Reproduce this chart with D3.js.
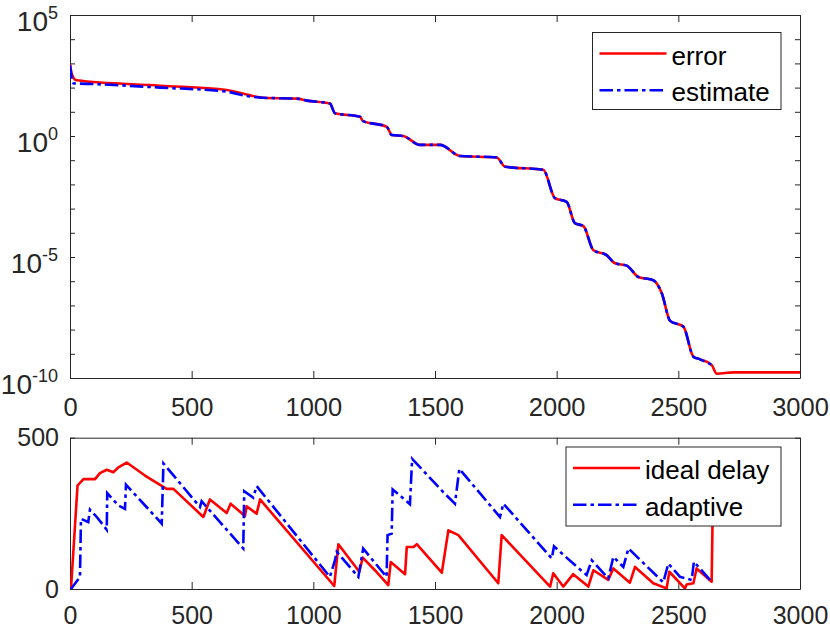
<!doctype html>
<html lang="en">
<head>
<meta charset="utf-8">
<title>error / delay</title>
<script src="https://cdn.jsdelivr.net/npm/d3@7/dist/d3.min.js"></script>
<style>
  body { margin: 0; background: #fff; }
  svg { font-family: "Liberation Sans", Arial, Helvetica, sans-serif; }
</style>
</head>
<body>
<svg id="fig" width="830" height="629"></svg>
<script>
// top panel: error and its estimate (log scale)
var errorIter = [0, 8, 27, 370, 644, 726, 794, 932, 973, 1068, 1089, 1192, 1203, 1302, 1322, 1370, 1438, 1521, 1603, 1754, 1788, 1945, 1993, 2041, 2075, 2110, 2151, 2205, 2240, 2288, 2336, 2397, 2432, 2466, 2521, 2562, 2589, 2637, 2658, 2726, 3000];
var errorVal = [9.5e2, 3.5e2, 2.0e2, 1.2e2, 79, 52, 38, 35, 29, 22, 8.7, 6.3, 4.2, 2.4, 1.1, 1.0, 0.43, 0.43, 0.15, 0.13, 0.054, 0.040, 2.7e-3, 1.9e-3, 2.5e-4, 1.9e-4, 1.9e-5, 1.2e-5, 5.5e-6, 4.4e-6, 1.5e-6, 1.1e-6, 3.2e-7, 2.3e-8, 1.3e-8, 7.6e-10, 5.9e-10, 3.5e-10, 1.5e-10, 1.7e-10, 1.7e-10];

var estimateIter = [0, 6, 15, 100, 370, 644, 726, 794, 932, 973, 1068, 1089, 1192, 1203, 1302, 1322, 1370, 1438, 1521, 1603, 1754, 1788, 1945, 1993, 2041, 2075, 2110, 2151, 2205, 2240, 2288, 2336, 2397, 2432, 2466, 2521, 2562, 2589, 2635];
var estimateVal = [8.5e2, 3.0e2, 1.5e2, 1.4e2, 1.0e2, 68, 45, 38, 35, 29, 22, 8.7, 6.3, 4.2, 2.4, 1.1, 1.0, 0.43, 0.43, 0.15, 0.13, 0.054, 0.040, 2.7e-3, 1.9e-3, 2.5e-4, 1.9e-4, 1.9e-5, 1.2e-5, 5.5e-6, 4.4e-6, 1.5e-6, 1.1e-6, 3.2e-7, 2.3e-8, 1.3e-8, 7.6e-10, 5.9e-10, 3.6e-10];

// bottom panel: delays
var delayIter = [0, 4, 31, 55, 103, 123, 151, 178, 199, 233, 308, 397, 425, 548, 575, 644, 660, 719, 726, 767, 781, 1086, 1103, 1189, 1203, 1253, 1308, 1318, 1377, 1384, 1412, 1425, 1528, 1555, 1596, 1760, 1774, 1973, 1986, 2027, 2068, 2130, 2151, 2212, 2233, 2301, 2322, 2397, 2452, 2463, 2527, 2534, 2562, 2575, 2637, 2641];
var delayVal = [0, 0, 342, 363, 363, 383, 394, 386, 402, 418, 375, 331, 331, 238, 296, 251, 282, 241, 273, 249, 296, 10, 148, 57, 104, 62, 13, 89, 49, 139, 139, 148, 54, 194, 178, 19, 178, 8, 52, 8, 49, 8, 62, 30, 68, 21, 73, 19, 2, 57, 2, 15, 19, 68, 24, 250];

var adaptiveIter = [0, 4, 41, 45, 75, 82, 110, 151, 153, 199, 226, 230, 377, 384, 534, 541, 712, 716, 753, 767, 1068, 1089, 1096, 1185, 1205, 1233, 1301, 1305, 1322, 1326, 1356, 1397, 1406, 1534, 1582, 1600, 1767, 1781, 1980, 1989, 2068, 2123, 2144, 2212, 2233, 2274, 2295, 2438, 2459, 2507, 2555, 2564, 2637];
var adaptiveVal = [0, 0, 40, 232, 221, 262, 238, 196, 317, 276, 265, 345, 216, 415, 271, 290, 134, 323, 302, 340, 40, 95, 123, 40, 134, 106, 40, 178, 183, 329, 309, 280, 430, 320, 282, 397, 238, 282, 101, 141, 84, 46, 95, 35, 106, 73, 134, 22, 84, 40, 30, 90, 24];

var xTicks = [0, 500, 1000, 1500, 2000, 2500, 3000];
var topLabelExp = [5, 0, -5, -10];
var botTicks = [0, 500];

var svg = d3.select("#fig");
var axisColor = "#262626";
var dashDot = "13.5,4,3.5,4";

var x = d3.scaleLinear().domain([0, 3000]).range([70, 800]);
var yTop = d3.scaleLog().domain([1e-10, 1e5]).range([378, 15]);
var yBot = d3.scaleLinear().domain([0, 500]).range([589, 437.7]);

function zip(a, b) { return a.map(function (v, i) { return [v, b[i]]; }); }

function styleAxis(g) {
    g.attr("font-size", null).attr("font-family", null);
    g.selectAll("path, line").attr("stroke", axisColor).attr("stroke-width", 1);
    g.selectAll("text").attr("fill", axisColor);
}

function frame(yScale, yTickVals, xLabelSize, pad) {
    var y0 = yScale.range()[0], y1 = yScale.range()[1];
    var bottom = svg.append("g").attr("transform", "translate(0," + y0 + ")")
        .call(d3.axisBottom(x).tickValues(xTicks).tickSize(-7).tickSizeOuter(0)
            .tickPadding(pad).tickFormat(d3.format("d")));
    bottom.selectAll("text").style("font-size", xLabelSize + "px");
    styleAxis(bottom);
    var top = svg.append("g").attr("transform", "translate(0," + y1 + ")")
        .call(d3.axisTop(x).tickValues(xTicks).tickSize(-7).tickSizeOuter(0).tickFormat(""));
    styleAxis(top);
    var right = svg.append("g").attr("transform", "translate(800,0)")
        .call(d3.axisRight(yScale).tickValues(yTickVals).tickSize(-5).tickSizeOuter(0).tickFormat(""));
    styleAxis(right);
}

// clip paths
svg.append("clipPath").attr("id", "clipTop").append("rect")
    .attr("x", 70).attr("y", 15).attr("width", 730).attr("height", 363);
svg.append("clipPath").attr("id", "clipBot").append("rect")
    .attr("x", 70).attr("y", 437.7).attr("width", 730).attr("height", 151.3);

// ---- top panel
var decades = d3.range(-10, 6).map(function (e) { return Math.pow(10, e); });
frame(yTop, decades, 25.5, 20);

var left = svg.append("g").attr("transform", "translate(70,0)")
    .call(d3.axisLeft(yTop).tickValues(decades).tickSize(-5).tickSizeOuter(0).tickPadding(12)
        .tickFormat(function () { return ""; }));
styleAxis(left);
left.selectAll(".tick text").each(function (d) {
    var e = Math.round(Math.log10(d));
    if (topLabelExp.indexOf(e) < 0) return;
    var t = d3.select(this).attr("dy", 15.5);
    t.append("tspan").style("font-size", "28px").text("10");
    t.append("tspan").style("font-size", "18px").attr("dy", -12).text(e);
});

var lineTop = d3.line()
    .x(function (d) { return x(d[0]); })
    .y(function (d) { return yTop(d[1]); })
    .curve(d3.curveMonotoneX);

svg.append("path").datum(zip(errorIter, errorVal))
    .attr("clip-path", "url(#clipTop)")
    .attr("d", lineTop).attr("fill", "none")
    .attr("stroke", "#ff0000").attr("stroke-width", 2.6);
svg.append("path").datum(zip(estimateIter, estimateVal))
    .attr("clip-path", "url(#clipTop)")
    .attr("d", lineTop).attr("fill", "none")
    .attr("stroke", "#0000ff").attr("stroke-width", 2.6)
    .attr("stroke-dasharray", dashDot);

// ---- bottom panel
frame(yBot, botTicks, 25, 17);
var leftBot = svg.append("g").attr("transform", "translate(70,0)")
    .call(d3.axisLeft(yBot).tickValues(botTicks).tickSize(-5).tickSizeOuter(0).tickPadding(11));
leftBot.selectAll("text").style("font-size", "25px");
styleAxis(leftBot);

var lineBot = d3.line()
    .x(function (d) { return x(d[0]); })
    .y(function (d) { return yBot(d[1]); });

svg.append("path").datum(zip(delayIter, delayVal))
    .attr("clip-path", "url(#clipBot)")
    .attr("d", lineBot).attr("fill", "none")
    .attr("stroke", "#ff0000").attr("stroke-width", 2.6).attr("stroke-linejoin", "round");
svg.append("path").datum(zip(adaptiveIter, adaptiveVal))
    .attr("clip-path", "url(#clipBot)")
    .attr("d", lineBot).attr("fill", "none")
    .attr("stroke", "#0000ff").attr("stroke-width", 2.6)
    .attr("stroke-dasharray", dashDot);

// ---- legends
function legend(x0, y0, w, h, items) {
    var g = svg.append("g");
    g.append("rect").attr("x", x0).attr("y", y0).attr("width", w).attr("height", h)
        .attr("fill", "#fff").attr("stroke", axisColor).attr("stroke-width", 1);
    items.forEach(function (it, i) {
        var ly = y0 + 21 + i * 36.7;
        g.append("line").attr("x1", x0 + 7).attr("x2", x0 + 74)
            .attr("y1", ly).attr("y2", ly)
            .attr("stroke", it.color).attr("stroke-width", 2.6)
            .attr("stroke-dasharray", it.dash);
        g.append("text").attr("x", x0 + 79).attr("y", ly + 11)
            .style("font-size", "26px").attr("fill", "#000").text(it.name);
    });
}

legend(592.5, 32.5, 188.5, 77, [
    { name: "error", color: "#ff0000", dash: null },
    { name: "estimate", color: "#0000ff", dash: dashDot }
]);
legend(566, 447, 215, 79, [
    { name: "ideal delay", color: "#ff0000", dash: null },
    { name: "adaptive", color: "#0000ff", dash: dashDot }
]);
</script>
</body>
</html>
